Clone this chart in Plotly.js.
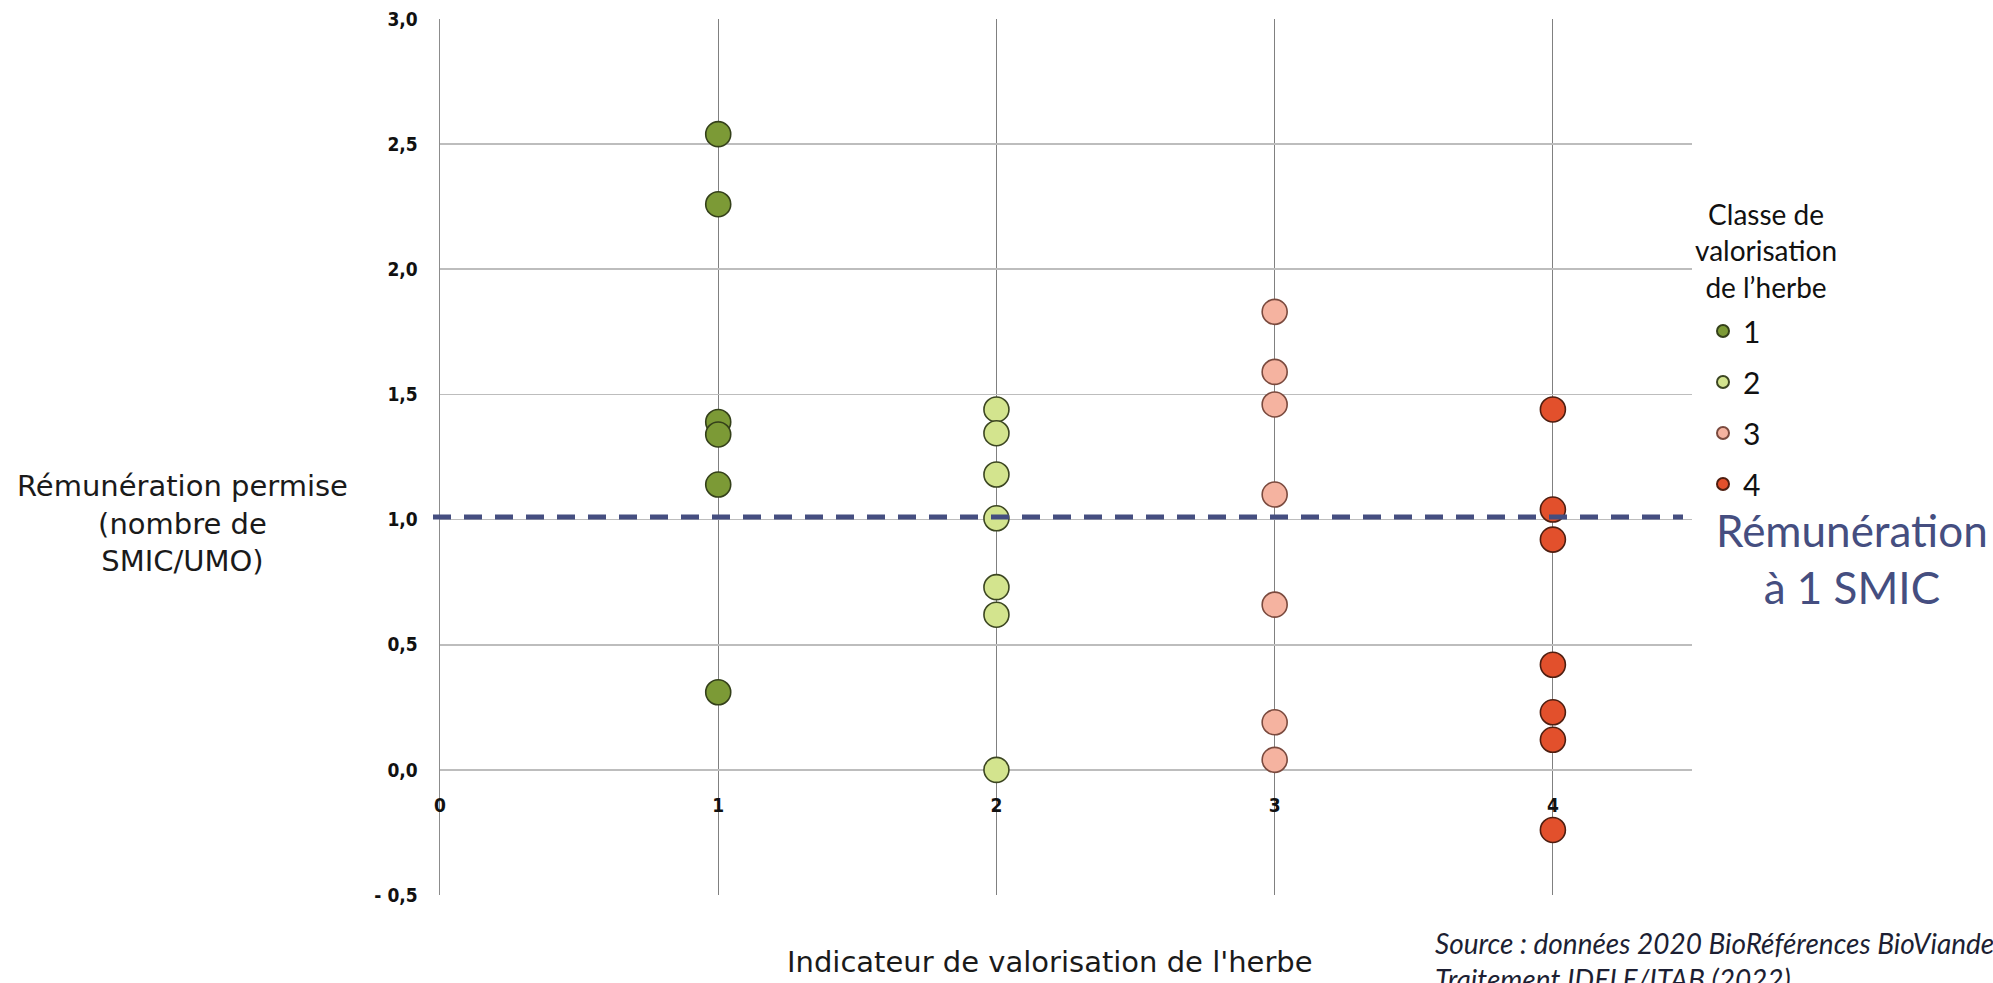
<!DOCTYPE html>
<html>
<head>
<meta charset="utf-8">
<script src="https://cdn.plot.ly/plotly-3.0.1.min.js"></script>
<style>
  html, body { margin: 0; padding: 0; background: #ffffff; }
  #chart { width: 1993px; height: 983px; }
</style>
</head>
<body>
<div id="chart"></div>
<script>
// ---------- data ----------
const classNames = ['1', '2', '3', '4'];

const indicator1 = [1, 1, 1, 1, 1, 1];
const remuneration1 = [2.54, 2.26, 1.39, 1.34, 1.14, 0.31];

const indicator2 = [2, 2, 2, 2, 2, 2, 2];
const remuneration2 = [1.44, 1.345, 1.18, 1.005, 0.73, 0.62, 0.0];

const indicator3 = [3, 3, 3, 3, 3, 3, 3];
const remuneration3 = [1.83, 1.59, 1.46, 1.10, 0.66, 0.19, 0.04];

const indicator4 = [4, 4, 4, 4, 4, 4, 4];
const remuneration4 = [1.44, 1.04, 0.92, 0.42, 0.23, 0.12, -0.24];

const smicReference = 1.01;   // dashed "Rémunération à 1 SMIC" level

const xTickVals = [0, 1, 2, 3, 4];
const xTickText = ['0', '1', '2', '3', '4'];
const yTickVals = [-0.5, 0, 0.5, 1.0, 1.5, 2.0, 2.5, 3.0];
const yTickText = ['- 0,5', '0,0', '0,5', '1,0', '1,5', '2,0', '2,5', '3,0'];

const xRange = [0, 4.5];
const yRange = [-0.5, 3.0];

// ---------- styling ----------
const W = 1993, H = 983;
const M = { l: 440, r: 301, t: 19, b: 88 };
const plotW = W - M.l - M.r, plotH = H - M.t - M.b;
const px = x => (x - M.l) / plotW;          // pixel -> paper x
const py = y => (H - M.b - y) / plotH;      // pixel -> paper y

const fillColors = ['#7C9A36', '#D3E48E', '#F5B3A0', '#E2502C'];
const lineColors = ['#34401A', '#3C4622', '#7A4A3E', '#4E1E10'];
const tickFont = { family: 'DejaVu Sans Condensed, DejaVu Sans', size: 19, color: '#111111', weight: 'bold' };

const xs = [indicator1, indicator2, indicator3, indicator4];
const ys = [remuneration1, remuneration2, remuneration3, remuneration4];

const traces = classNames.map((name, i) => ({
  type: 'scatter',
  mode: 'markers',
  name: name,
  legendgroup: 'g' + name,
  x: xs[i],
  y: ys[i],
  marker: {
    size: 25,
    color: fillColors[i],
    line: { color: lineColors[i], width: 1.6 }
  },
  hoverinfo: 'x+y'
}));

const layout = {
  width: W,
  height: H,
  margin: M,
  paper_bgcolor: '#ffffff',
  plot_bgcolor: '#ffffff',
  separators: ', ',
  showlegend: true,
  xaxis: {
    range: xRange,
    anchor: 'free',
    position: (0 - yRange[0]) / (yRange[1] - yRange[0]),
    tickmode: 'array',
    tickvals: xTickVals,
    ticktext: xTickText,
    ticks: 'outside',
    ticklen: 18,
    tickcolor: 'rgba(0,0,0,0)',
    showgrid: true,
    gridcolor: '#808080',
    gridwidth: 1,
    zeroline: false,
    showline: false,
    tickfont: tickFont
  },
  yaxis: {
    range: yRange,
    tickmode: 'array',
    tickvals: yTickVals,
    ticktext: yTickText,
    ticks: 'outside',
    ticklen: 17,
    tickcolor: 'rgba(0,0,0,0)',
    showgrid: true,
    gridcolor: '#BDBDBD',
    gridwidth: 1.6,
    zeroline: false,
    showline: true,
    linecolor: '#8C8C8C',
    linewidth: 1.5,
    tickfont: tickFont
  },
  legend: {
    x: px(1703),
    xanchor: 'left',
    y: py(305),
    yanchor: 'top',
    bgcolor: 'rgba(0,0,0,0)',
    traceorder: 'grouped',
    tracegroupgap: 9,
    itemsizing: 'constant',
    font: { family: 'Lato', size: 30, color: '#111111' }
  },
  shapes: [{
    type: 'line',
    xref: 'paper',
    yref: 'y',
    x0: px(433),
    x1: px(1683),
    y0: smicReference,
    y1: smicReference,
    line: { color: '#454E80', width: 5, dash: '18px,13px' }
  }],
  annotations: [
    {
      xref: 'paper', yref: 'paper',
      x: px(182), y: py(523),
      xanchor: 'center', yanchor: 'middle',
      showarrow: false, align: 'center',
      text: 'Rémunération permise<br>(nombre de<br>SMIC/UMO)',
      font: { family: 'DejaVu Sans', size: 29, color: '#1a1a1a' }
    },
    {
      xref: 'paper', yref: 'paper',
      x: px(1050), y: py(962),
      xanchor: 'center', yanchor: 'middle',
      showarrow: false,
      text: "Indicateur de valorisation de l'herbe",
      font: { family: 'DejaVu Sans', size: 29, color: '#1a1a1a' }
    },
    {
      xref: 'paper', yref: 'paper',
      x: px(1766), y: py(250),
      xanchor: 'center', yanchor: 'middle',
      showarrow: false, align: 'center',
      text: 'Classe de<br>valorisation<br>de l’herbe',
      font: { family: 'Lato', size: 28, color: '#111111' }
    },
    {
      xref: 'paper', yref: 'paper',
      x: px(1852), y: py(558),
      xanchor: 'center', yanchor: 'middle',
      showarrow: false, align: 'center',
      text: 'Rémunération<br>à 1 SMIC',
      font: { family: 'Lato', size: 44, color: '#454E80' }
    },
    {
      xref: 'paper', yref: 'paper',
      x: px(1433), y: py(924),
      xanchor: 'left', yanchor: 'top',
      showarrow: false, align: 'left',
      text: '<i>Source : données 2020 BioRéférences BioViande</i><br><i>Traitement IDELE/ITAB (2022)</i>',
      font: { family: 'Lato', size: 28, color: '#1d1f33' }
    }
  ]
};

Plotly.newPlot('chart', traces, layout, { displayModeBar: false, staticPlot: true });
</script>
</body>
</html>
